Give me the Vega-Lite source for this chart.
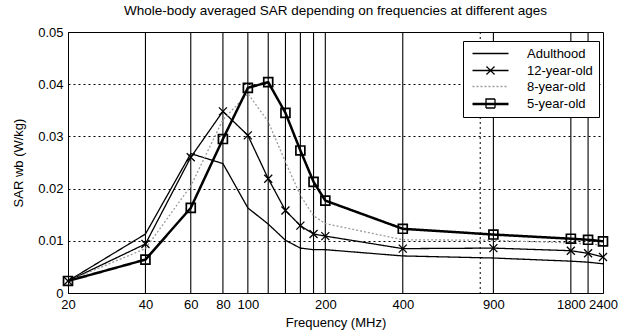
{
  "$schema": "https://vega.github.io/schema/vega-lite/v6.json",
  "width": 535,
  "height": 261,
  "autosize": {"type": "none"},
  "padding": {"left": 68, "top": 32, "right": 18, "bottom": 42},
  "title": {"text": "Whole-body averaged SAR depending on frequencies at different ages", "fontSize": 13.5, "font": "Liberation Sans", "fontWeight": "normal", "color": "black", "anchor": "middle", "frame": "group", "offset": 9},
  "datasets": {
    "vgrid": [{"f": 40}, {"f": 60}, {"f": 80}, {"f": 100}, {"f": 120}, {"f": 140}, {"f": 160}, {"f": 180}, {"f": 200}, {"f": 400}, {"f": 900}, {"f": 1800}, {"f": 2100}],
    "vdot": [{"f": 800}],
    "sar": [
      {"age": "Adulthood", "f": 20, "sar": 0.0023}, {"age": "Adulthood", "f": 40, "sar": 0.0113}, {"age": "Adulthood", "f": 60, "sar": 0.0267}, {"age": "Adulthood", "f": 80, "sar": 0.0248}, {"age": "Adulthood", "f": 100, "sar": 0.0163}, {"age": "Adulthood", "f": 120, "sar": 0.0132}, {"age": "Adulthood", "f": 140, "sar": 0.0101}, {"age": "Adulthood", "f": 160, "sar": 0.0086}, {"age": "Adulthood", "f": 180, "sar": 0.0083}, {"age": "Adulthood", "f": 200, "sar": 0.0083}, {"age": "Adulthood", "f": 400, "sar": 0.0071}, {"age": "Adulthood", "f": 900, "sar": 0.0067}, {"age": "Adulthood", "f": 1800, "sar": 0.0061}, {"age": "Adulthood", "f": 2100, "sar": 0.0059}, {"age": "Adulthood", "f": 2400, "sar": 0.0056},
      {"age": "12-year-old", "f": 20, "sar": 0.0023}, {"age": "12-year-old", "f": 40, "sar": 0.0094}, {"age": "12-year-old", "f": 60, "sar": 0.026}, {"age": "12-year-old", "f": 80, "sar": 0.0348}, {"age": "12-year-old", "f": 100, "sar": 0.0302}, {"age": "12-year-old", "f": 120, "sar": 0.0219}, {"age": "12-year-old", "f": 140, "sar": 0.0158}, {"age": "12-year-old", "f": 160, "sar": 0.0129}, {"age": "12-year-old", "f": 180, "sar": 0.0113}, {"age": "12-year-old", "f": 200, "sar": 0.0109}, {"age": "12-year-old", "f": 400, "sar": 0.0085}, {"age": "12-year-old", "f": 900, "sar": 0.0086}, {"age": "12-year-old", "f": 1800, "sar": 0.0081}, {"age": "12-year-old", "f": 2100, "sar": 0.0076}, {"age": "12-year-old", "f": 2400, "sar": 0.0069},
      {"age": "8-year-old", "f": 20, "sar": 0.0023}, {"age": "8-year-old", "f": 40, "sar": 0.0085}, {"age": "8-year-old", "f": 60, "sar": 0.0205}, {"age": "8-year-old", "f": 80, "sar": 0.0332}, {"age": "8-year-old", "f": 100, "sar": 0.0382}, {"age": "8-year-old", "f": 120, "sar": 0.0328}, {"age": "8-year-old", "f": 140, "sar": 0.0251}, {"age": "8-year-old", "f": 160, "sar": 0.0187}, {"age": "8-year-old", "f": 180, "sar": 0.0148}, {"age": "8-year-old", "f": 200, "sar": 0.0133}, {"age": "8-year-old", "f": 400, "sar": 0.0102}, {"age": "8-year-old", "f": 900, "sar": 0.0101}, {"age": "8-year-old", "f": 1800, "sar": 0.0096}, {"age": "8-year-old", "f": 2100, "sar": 0.0094}, {"age": "8-year-old", "f": 2400, "sar": 0.0092},
      {"age": "5-year-old", "f": 20, "sar": 0.0023}, {"age": "5-year-old", "f": 40, "sar": 0.0064}, {"age": "5-year-old", "f": 60, "sar": 0.0163}, {"age": "5-year-old", "f": 80, "sar": 0.0295}, {"age": "5-year-old", "f": 100, "sar": 0.0393}, {"age": "5-year-old", "f": 120, "sar": 0.0404}, {"age": "5-year-old", "f": 140, "sar": 0.0345}, {"age": "5-year-old", "f": 160, "sar": 0.0273}, {"age": "5-year-old", "f": 180, "sar": 0.0213}, {"age": "5-year-old", "f": 200, "sar": 0.0177}, {"age": "5-year-old", "f": 400, "sar": 0.0123}, {"age": "5-year-old", "f": 900, "sar": 0.0112}, {"age": "5-year-old", "f": 1800, "sar": 0.0104}, {"age": "5-year-old", "f": 2100, "sar": 0.0102}, {"age": "5-year-old", "f": 2400, "sar": 0.0099}
    ]
  },
  "encoding": {
    "x": {"field": "f", "type": "quantitative", "scale": {"type": "log", "domain": [20, 2400], "nice": false},
      "axis": {"values": [20, 40, 60, 80, 100, 200, 400, 900, 1800, 2400], "format": "d", "grid": false, "ticks": false, "labelFlush": false, "labelOverlap": false, "labelPadding": 5, "title": "Frequency (MHz)", "titlePadding": 5}}
  },
  "layer": [
    {"data": {"name": "vgrid"}, "mark": {"type": "rule", "color": "black", "strokeWidth": 1.1}},
    {"data": {"name": "vdot"}, "mark": {"type": "rule", "color": "black", "strokeWidth": 1, "strokeDash": [2, 3]}},
    {"data": {"name": "sar"}, "mark": {"type": "line", "strokeJoin": "round"},
      "encoding": {
        "y": {"field": "sar", "type": "quantitative", "scale": {"domain": [0, 0.05], "nice": false}, "axis": {"values": [0, 0.01, 0.02, 0.03, 0.04, 0.05], "format": "~g", "grid": true, "gridDash": [2, 3], "gridColor": "black", "gridWidth": 1, "ticks": false, "labelPadding": 5, "title": "SAR wb (W/kg)", "titlePadding": 12}},
        "detail": {"field": "age", "type": "nominal"},
        "color": {"condition": {"test": "datum.age === '8-year-old'", "value": "#9a9a9a"}, "value": "black"},
        "strokeDash": {"condition": {"test": "datum.age === '8-year-old'", "value": [2, 2]}, "value": [1, 0]},
        "strokeWidth": {"condition": {"test": "datum.age === '5-year-old'", "value": 2.5}, "value": 1.3}
      }},
    {"data": {"name": "sar"}, "transform": [{"filter": "datum.age === '12-year-old'"}],
      "mark": {"type": "point", "shape": "M-1,-1L1,1M-1,1L1,-1", "size": 64, "stroke": "black", "strokeWidth": 1.3, "filled": false, "opacity": 1},
      "encoding": {"y": {"field": "sar", "type": "quantitative", "scale": {"domain": [0, 0.05], "nice": false}, "axis": {"values": [0, 0.01, 0.02, 0.03, 0.04, 0.05], "format": "~g", "grid": true, "gridDash": [2, 3], "gridColor": "black", "gridWidth": 1, "ticks": false, "labelPadding": 5, "title": "SAR wb (W/kg)", "titlePadding": 12}}}},
    {"data": {"name": "sar"}, "transform": [{"filter": "datum.age === '5-year-old'"}],
      "mark": {"type": "point", "shape": "square", "size": 80, "stroke": "black", "strokeWidth": 1.7, "filled": false, "opacity": 1},
      "encoding": {"y": {"field": "sar", "type": "quantitative", "scale": {"domain": [0, 0.05], "nice": false}, "axis": {"values": [0, 0.01, 0.02, 0.03, 0.04, 0.05], "format": "~g", "grid": true, "gridDash": [2, 3], "gridColor": "black", "gridWidth": 1, "ticks": false, "labelPadding": 5, "title": "SAR wb (W/kg)", "titlePadding": 12}}}},
    {"data": {"name": "sar"},
      "transform": [{"filter": "datum.sar < 0"}],
      "mark": {"type": "point", "filled": false, "strokeWidth": 1.3},
      "encoding": {
        "y": {"field": "sar", "type": "quantitative", "scale": {"domain": [0, 0.05], "nice": false}, "axis": {"values": [0, 0.01, 0.02, 0.03, 0.04, 0.05], "format": "~g", "grid": true, "gridDash": [2, 3], "gridColor": "black", "gridWidth": 1, "ticks": false, "labelPadding": 5, "title": "SAR wb (W/kg)", "titlePadding": 12}},
        "color": {"field": "age", "type": "nominal",
          "scale": {"domain": ["Adulthood", "12-year-old", "8-year-old", "5-year-old"], "range": ["black", "black", "#9a9a9a", "black"]},
          "legend": {"title": null, "orient": "none", "legendX": 395, "legendY": 9, "labelExpr": "datum.label + '        '"}},
        "strokeDash": {"field": "age", "type": "nominal",
          "scale": {"domain": ["Adulthood", "12-year-old", "8-year-old", "5-year-old"], "range": [[1, 0], [1, 0], [2, 2], [1, 0]]},
          "legend": {"title": null, "orient": "none", "legendX": 395, "legendY": 9, "labelExpr": "datum.label + '        '"}},
        "shape": {"field": "age", "type": "nominal",
          "scale": {"domain": ["Adulthood", "12-year-old", "8-year-old", "5-year-old"], "range": ["M-3.6,0L3.6,0", "M-3.6,0L3.6,0M-0.8,-0.8L0.8,0.8M-0.8,0.8L0.8,-0.8", "M-3.6,0L3.6,0", "M-3.6,0L3.6,0M-3.6,0.2L3.6,0.2M-0.9,-0.9L0.9,-0.9L0.9,0.9L-0.9,0.9Z"]},
          "legend": {"title": null, "orient": "none", "legendX": 395, "legendY": 9, "labelExpr": "datum.label + '        '"}}
      }}
  ],
  "config": {
    "font": "Liberation Sans",
    "view": {"stroke": "black", "strokeWidth": 1},
    "axis": {"labelFont": "Liberation Sans", "labelFontSize": 13, "labelColor": "black", "titleFont": "Liberation Sans", "titleFontSize": 13, "titleFontWeight": "normal", "titleColor": "black", "domainColor": "black", "domainWidth": 1},
    "legend": {"labelFont": "Liberation Sans", "labelFontSize": 13, "labelColor": "black", "strokeColor": "black", "fillColor": "white", "padding": 6, "symbolSize": 100, "symbolOffset": 15, "labelOffset": 30, "rowPadding": 2, "cornerRadius": 0, "symbolStrokeWidth": 1.3, "symbolOpacity": 1}
  }
}
